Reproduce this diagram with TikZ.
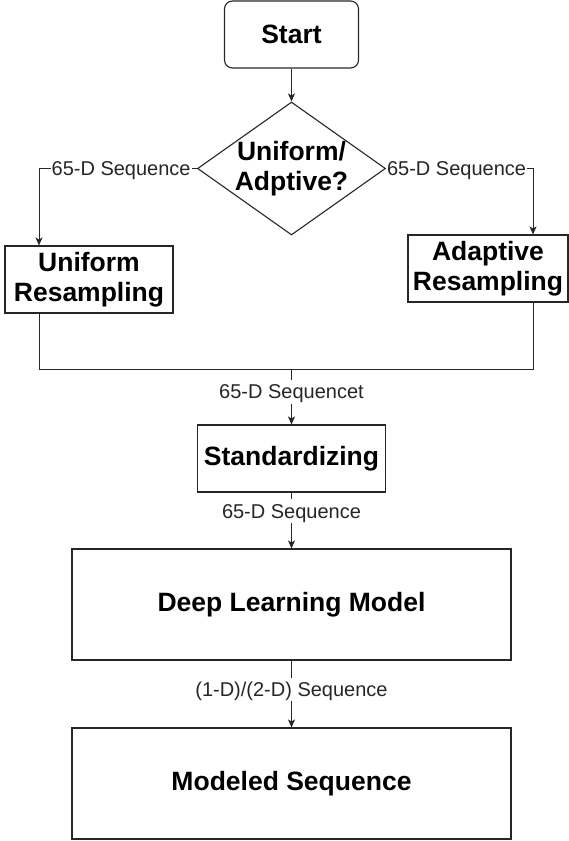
\documentclass[tikz,border=0pt]{standalone}
\usepackage{fontspec}
\setmainfont{Liberation Sans}
\usetikzlibrary{shapes.geometric,arrows.meta}
\begin{document}
\begin{tikzpicture}[x=1pt,y=-1pt,
  box/.style={draw=black!85, line width=1.1pt, inner sep=0pt, align=center,
    font=\bfseries\fontsize{26.5}{29.5}\selectfont},
  lbl/.style={fill=white, inner sep=1pt, text height=18pt, text depth=3.6pt,
    font=\fontsize{20}{24}\selectfont, text=black!85},
  conn/.style={draw=black!85, line width=1pt},
  arr/.style={conn, -{Stealth[length=8pt,width=7pt,inset=2pt]}}
]
\useasboundingbox (0,0) rectangle (569,841);
\node[box, rounded corners=8pt, minimum width=134pt, minimum height=67pt] (start) at (291.5,34.5) {Start};
\node[draw=black!85, line width=1.1pt, shape=diamond, minimum width=188pt, minimum height=133pt, inner sep=0pt] (dia) at (291.5,168.5) {};
\node[align=center, font=\bfseries\fontsize{26.5}{29.5}\selectfont] (diatext) at (dia.center) {Uniform/\\Adptive?};
\node[box, minimum width=168pt, minimum height=67pt] (uni) at (89,279.5) {Uniform\\Resampling};
\node[box, minimum width=160pt, minimum height=67pt] (ada) at (488,268.5) {Adaptive\\Resampling};
\node[box, minimum width=188pt, minimum height=67pt] (std) at (291.5,458.5) {Standardizing};
\node[box, minimum width=439pt, minimum height=111pt] (dl) at (291.5,604.5) {Deep Learning Model};
\node[box, minimum width=439pt, minimum height=111pt] (mod) at (291.5,783.5) {Modeled Sequence};
\coordinate (lcol) at (39,0);
\coordinate (rcol) at (533,0);
\coordinate (merge) at (291.5,369);
\draw[arr] (start) -- (dia);
\draw[arr] (dia.west) -| node[lbl, pos=0.24] {65-D Sequence} (uni.north -| lcol);
\draw[arr] (dia.east) -| node[lbl, pos=0.24] {65-D Sequence} (ada.north -| rcol);
\draw[conn] (uni.south -| lcol) |- (merge);
\draw[conn] (ada.south -| rcol) |- (merge);
\draw[arr] (merge) -- node[lbl, pos=0.41] {65-D Sequencet} (std.north);
\draw[arr] (std) -- node[lbl, pos=0.33] {65-D Sequence} (dl);
\draw[arr] (dl) -- node[lbl, pos=0.43] {(1-D)/(2-D) Sequence} (mod);
\end{tikzpicture}
\end{document}
